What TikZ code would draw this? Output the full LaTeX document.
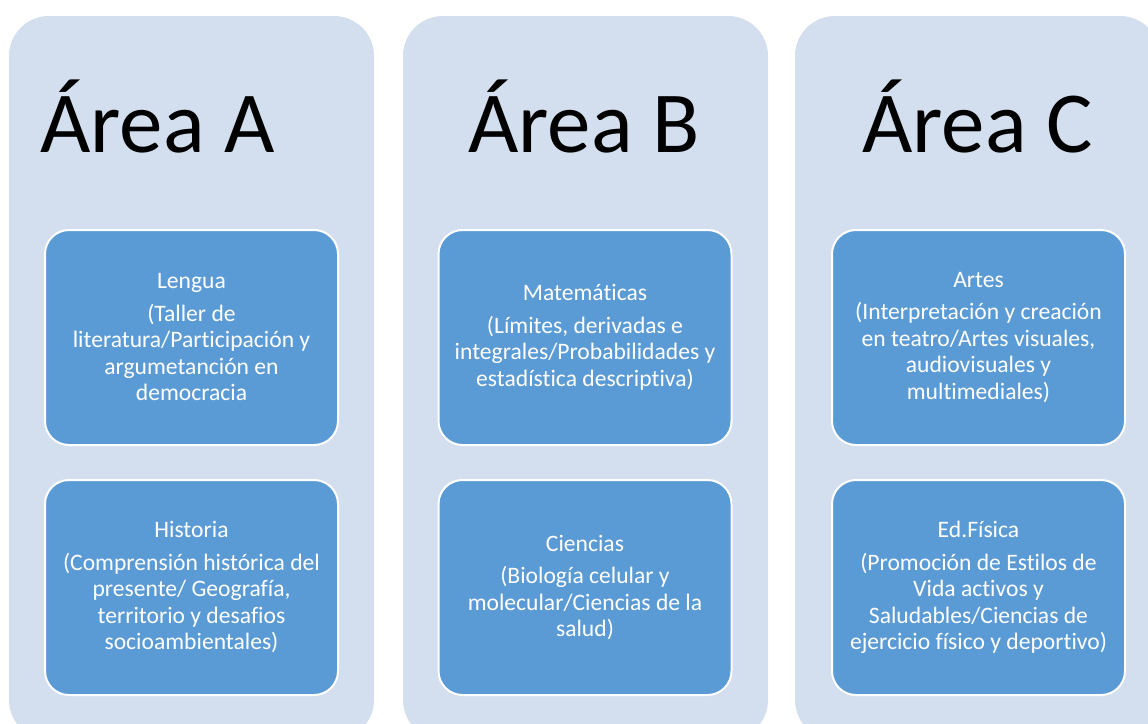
\documentclass[tikz,border=0pt]{standalone}
\usepackage{fontspec}
\setmainfont{Carlito}[Ligatures=NoCommon]
\usetikzlibrary{positioning}

\definecolor{areabg}{RGB}{211,222,238}
\definecolor{subjblue}{RGB}{91,155,213}

\tikzset{
  area/.style={fill=areabg, draw=none, rounded corners=40pt},
  areatitle/.style={anchor=base west, inner sep=0pt, font=\fontsize{87}{100}\selectfont},
  subj/.style={fill=subjblue, draw=white, line width=2pt, rounded corners=24pt,
    minimum width=293pt, minimum height=215pt, text width=289pt, align=flush center,
    text=white, inner sep=0pt, font=\fontsize{23.6}{26.5}\selectfont},
}

\begin{document}
\begin{tikzpicture}[x=1pt,y=-1pt]
\useasboundingbox (0,0) rectangle (1148,723);
% the three areas
\draw[area] (9,16) rectangle (374,740);
\draw[area] (403,16) rectangle (768,740);
\draw[area] (795,16) rectangle (1160,740);
\node[areatitle] (titA) at (40,152) {Área A};
\node[areatitle] (titB) at (468,152) {Área B};
\node[areatitle] (titC) at (862,152) {Área C};
% subjects, area A
\node[subj] (lengua) at (191.5,337.5) {Lengua\\[6pt](Taller de\\literatura/Participación y\\argumetanción en\\democracia};
\node[subj, below=33pt of lengua] (historia) {Historia\\[6pt](Comprensión histórica del\\presente/ Geografía,\\territorio y desafios\\socioambientales)};
% area B
\node[subj] (mate) at (585,337.5) {Matemáticas\\[6pt](Límites, derivadas e\\integrales/Probabilidades y\\estadística descriptiva)};
\node[subj, below=33pt of mate] (ciencias) {Ciencias\\[6pt](Biología celular y\\molecular/Ciencias de la\\salud)};
% area C
\node[subj] (artes) at (978.5,337.5) {Artes\\[6pt](Interpretación y creación\\en teatro/Artes visuales,\\audiovisuales y\\multimediales)};
\node[subj, below=33pt of artes] (edfis) {Ed.Física\\[6pt](Promoción de Estilos de\\Vida activos y\\Saludables/Ciencias de\\ejercicio físico y deportivo)};
\end{tikzpicture}
\end{document}
